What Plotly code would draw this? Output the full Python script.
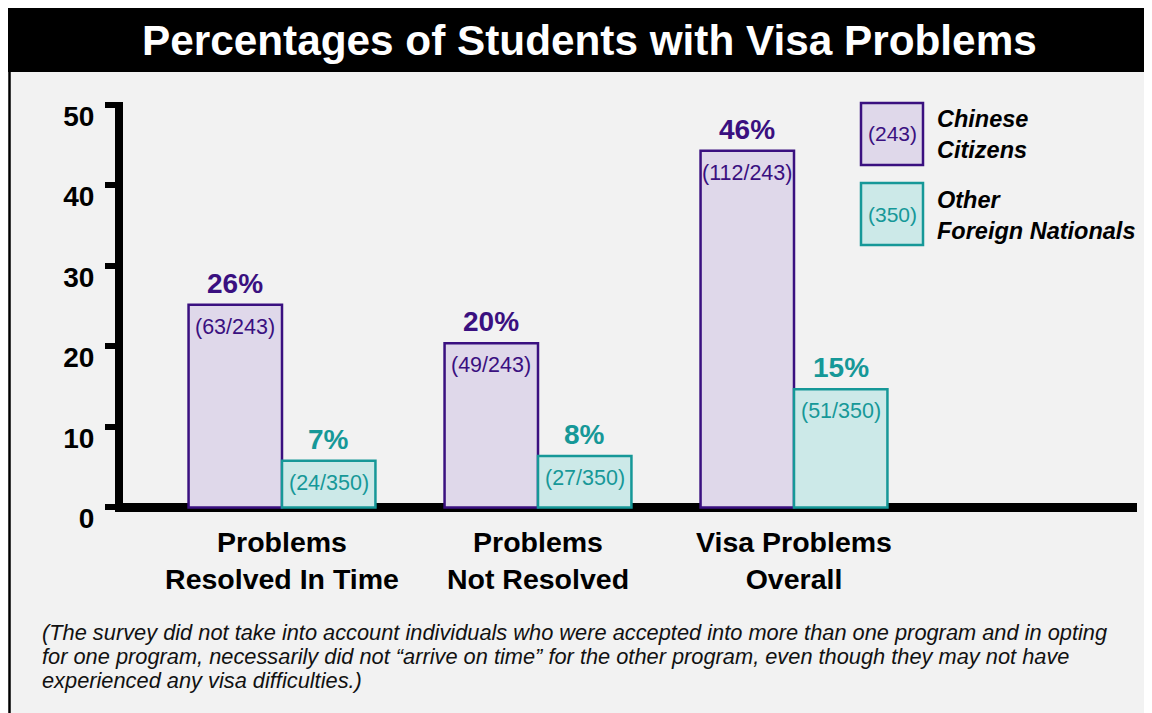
import plotly.graph_objects as go

# ---------------- data ----------------
categories = ["Problems<br>Resolved In Time", "Problems<br>Not Resolved", "Visa Problems<br>Overall"]
chinese_vals = [25.2, 20.4, 44.3]
other_vals = [5.8, 6.4, 14.7]
chinese_pct = ["26%", "20%", "46%"]
other_pct = ["7%", "8%", "15%"]
chinese_counts = ["(63/243)", "(49/243)", "(112/243)"]
other_counts = ["(24/350)", "(27/350)", "(51/350)"]
series_names = ["Chinese<br>Citizens", "Other<br>Foreign Nationals"]
series_n = ["(243)", "(350)"]
y_ticks = [0, 10, 20, 30, 40, 50]
title_text = "Percentages of Students with Visa Problems"
footnote_lines = [
    "(The survey did not take into account individuals who were accepted into more than one program and in opting",
    "for one program, necessarily did not \u201carrive on time\u201d for the other program, even though they may not have",
    "experienced any visa difficulties.)",
]

# ---------------- styles ----------------
FONT = "Liberation Sans, Arial, Helvetica, sans-serif"
PURPLE = "#3a1080"
PURPLE_FILL = "#dfd8ea"
TEAL = "#169898"
TEAL_FILL = "#cce9e8"
BG = "#f2f2f2"

OFF = 8                      # page body margin
W, H = 1144, 705             # figure size
L, R, T, B = 123, 1137, 102, 512   # plot area in page pixels
BARGAP = 0.27

def px_x(p):
    return (p - L) / (R - L)

def px_y(p):
    return (B - p) / (B - T)

xpos = list(range(len(categories)))
half = (1 - BARGAP) / 4.0  # offset of each bar center from group center

fig = go.Figure()
fig.add_trace(go.Bar(x=xpos, y=chinese_vals, name="Chinese Citizens",
                     marker=dict(color=PURPLE_FILL, line=dict(color=PURPLE, width=2.5)),
                     hoverinfo="skip"))
fig.add_trace(go.Bar(x=xpos, y=other_vals, name="Other Foreign Nationals",
                     marker=dict(color=TEAL_FILL, line=dict(color=TEAL, width=2.5)),
                     hoverinfo="skip"))

annotations = []
for i, x in enumerate(xpos):
    for vals, pct, cnt, col, sgn in [(chinese_vals, chinese_pct, chinese_counts, PURPLE, -1),
                                      (other_vals, other_pct, other_counts, TEAL, 1)]:
        bx = x + sgn * half
        annotations.append(dict(x=bx, y=vals[i], xref="x", yref="y", text=pct[i],
                                showarrow=False, yanchor="bottom", yshift=4,
                                font=dict(family=FONT, size=28, color=col, weight="bold")))
        annotations.append(dict(x=bx, y=vals[i], xref="x", yref="y", text=cnt[i],
                                showarrow=False, yanchor="top", yshift=-8,
                                font=dict(family=FONT, size=21.5, color=col)))

# title
annotations.append(dict(x=px_x(589), y=px_y(40), xref="paper", yref="paper", text=title_text,
                        showarrow=False, xanchor="center", yanchor="middle",
                        font=dict(family=FONT, size=42.3, color="white", weight="bold")))

# legend
legend_boxes = [(103, 165, PURPLE, PURPLE_FILL), (183, 245, TEAL, TEAL_FILL)]
legend_shapes = []
for (y0, y1, lc, fc), nm, nn in zip(legend_boxes, series_names, series_n):
    legend_shapes.append(dict(type="rect", xref="paper", yref="paper",
                              x0=px_x(861), x1=px_x(923), y0=px_y(y1), y1=px_y(y0),
                              line=dict(color=lc, width=2.5), fillcolor=fc))
    annotations.append(dict(x=px_x(892), y=px_y((y0 + y1) / 2), xref="paper", yref="paper",
                            text=nn, showarrow=False, xanchor="center", yanchor="middle",
                            font=dict(family=FONT, size=21, color=lc)))
    annotations.append(dict(x=px_x(935), y=px_y((y0 + y1) / 2 + 1), xref="paper", yref="paper",
                            text="<i>" + nm + "</i>", showarrow=False, xanchor="left", yanchor="middle",
                            align="left",
                            font=dict(family=FONT, size=23.5, color="black", weight="bold")))

# footnote
for line, yy in zip(footnote_lines, [632, 656, 680]):
    annotations.append(dict(x=px_x(40), y=px_y(yy), xref="paper", yref="paper",
                            text="<i>" + line + "</i>", showarrow=False,
                            xanchor="left", yanchor="middle",
                            font=dict(family=FONT, size=21.8, color="#111111")))

# decorative frame: black title bar, left border
shapes = [
    dict(type="rect", xref="paper", yref="paper", x0=px_x(OFF), x1=px_x(OFF + W + 4),
         y0=px_y(72), y1=px_y(OFF - 2),
         line=dict(width=0), fillcolor="black", layer="below"),
    dict(type="line", xref="paper", yref="paper", x0=px_x(OFF + 1.5), x1=px_x(OFF + 1.5),
         y0=px_y(OFF + H + 4), y1=px_y(72),
         line=dict(color="black", width=2.5)),
] + legend_shapes

fig.update_layout(
    width=W, height=H, autosize=False,
    margin=dict(l=L - OFF, r=(OFF + W) - R, t=T - OFF, b=(OFF + H) - B, pad=0),
    paper_bgcolor=BG, plot_bgcolor=BG,
    barmode="group", bargap=BARGAP, bargroupgap=0,
    showlegend=False,
    annotations=annotations,
    shapes=shapes,
    xaxis=dict(range=[(L - 282) / 256, (R - 282) / 256], tickmode="array", tickvals=xpos,
               ticktext=categories, ticks="", showline=False, showgrid=False, zeroline=False,
               ticklabelstandoff=10,
               tickfont=dict(family=FONT, size=28.5, color="black", weight="bold")),
    yaxis=dict(range=[-0.56, 50.37], tickmode="array", tickvals=y_ticks,
               ticks="outside", ticklen=10, tickwidth=6, tickcolor="black",
               showline=True, linewidth=8, linecolor="black",
               zeroline=True, zerolinewidth=9, zerolinecolor="black",
               showgrid=False, layer="above traces",
               ticklabelposition="outside", ticklabelshift=11, ticklabelstandoff=5,
               tickfont=dict(family=FONT, size=28, color="black", weight="bold")),
)

fig.write_html(
    "out.html",
    post_script="document.documentElement.style.overflow='hidden';document.body.style.overflow='hidden';",
)
